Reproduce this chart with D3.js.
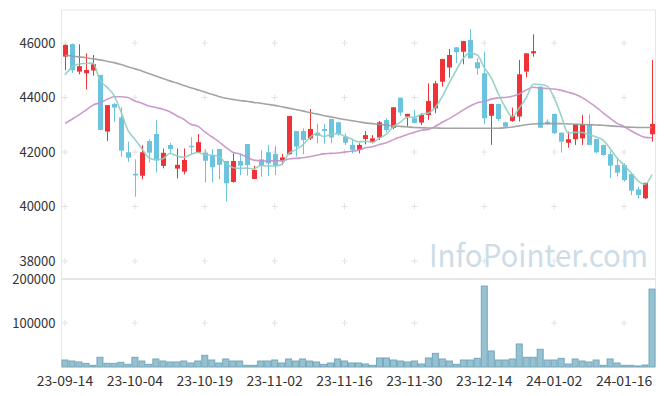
<!DOCTYPE html>
<html>
<head>
<meta charset="utf-8">
<script src="https://cdn.jsdelivr.net/npm/d3@7"></script>
<style>
  body { margin: 0; background: #fff; }
  svg { display: block; font-family: "Noto Sans CJK KR", "Noto Sans", sans-serif; }
</style>
</head>
<body>
<div class="canvas"></div>
<script>
// trading days (categories)
const dates = [
  "23-09-14","23-09-15","23-09-18","23-09-19","23-09-20","23-09-21","23-09-22","23-09-25","23-09-26","23-09-27",
  "23-10-04","23-10-05","23-10-06","23-10-10","23-10-11","23-10-12","23-10-13","23-10-16","23-10-17","23-10-18",
  "23-10-19","23-10-20","23-10-23","23-10-24","23-10-25","23-10-26","23-10-27","23-10-30","23-10-31","23-11-01",
  "23-11-02","23-11-03","23-11-06","23-11-07","23-11-08","23-11-09","23-11-10","23-11-13","23-11-14","23-11-15",
  "23-11-16","23-11-17","23-11-20","23-11-21","23-11-22","23-11-23","23-11-24","23-11-27","23-11-28","23-11-29",
  "23-11-30","23-12-01","23-12-04","23-12-05","23-12-06","23-12-07","23-12-08","23-12-11","23-12-12","23-12-13",
  "23-12-14","23-12-15","23-12-18","23-12-19","23-12-20","23-12-21","23-12-22","23-12-26","23-12-27","23-12-28",
  "24-01-02","24-01-03","24-01-04","24-01-05","24-01-08","24-01-09","24-01-10","24-01-11","24-01-12","24-01-15",
  "24-01-16","24-01-17","24-01-18","24-01-19","24-01-22"
];

const opens = [
  45500,45960,44950,44890,44990,44830,42750,43760,43270,41990,
  41200,41130,42400,42660,41490,42260,41390,41280,42230,41980,
  41975,41880,42110,41670,40900,41670,42290,41010,41730,41990,
  41930,41680,41920,42770,42770,42500,42710,42845,43210,43090,
  42560,42260,42080,42480,42360,42530,43170,42890,43990,43300,
  43240,43080,43360,43600,44580,45100,45840,45680,46110,45290,
  44890,43330,43760,43090,43140,43300,44950,45620,44400,43110,
  43400,42710,42340,42470,42500,43030,42480,42260,41920,41520,
  41520,41190,40630,40300,42650
];
const highs = [
  45950,45980,45950,45620,45560,44830,43720,43800,43640,42380,
  41730,42250,42470,43170,42130,42340,42130,42130,42540,42660,
  42100,42100,42110,41670,41950,41950,42290,41490,42070,42260,
  42230,41930,43320,42770,42870,43580,43040,43030,43210,43110,
  42690,42440,42320,42770,42620,43140,43240,43650,44000,43400,
  43540,43420,44520,44610,45420,45780,45850,46080,46510,45440,
  45680,43770,43770,43110,43630,45380,45630,46320,44400,43200,
  43400,42710,42750,43030,43360,43380,42480,42260,42040,41770,
  41590,41200,40730,40870,45380
];
const lows = [
  45000,44900,44850,44300,44800,42800,42400,43110,41830,41640,
  40360,41000,41610,41250,41400,41950,41030,41180,41890,41970,
  40880,40880,41000,40190,40870,41150,41130,41000,41100,41130,
  41150,41520,41900,41830,41920,42440,42320,42300,42320,42600,
  42260,41950,41950,42280,42320,42440,42720,42840,43330,42930,
  43050,42990,43180,43420,44400,44730,45260,45220,45430,44830,
  43020,42260,43140,42900,43110,43120,44740,45500,42880,43000,
  42650,41980,42160,42260,42260,42250,41950,41850,41040,41100,
  40910,40420,40300,40280,42380
];
const closes = [
  45930,45000,45150,45010,45220,42810,43720,43630,42050,41790,
  41140,41990,41975,41690,41970,42110,41530,41710,42210,42360,
  41680,41440,41530,40850,41670,41500,41520,41340,41500,41580,
  41500,41800,43320,42200,42440,42845,42600,42770,42530,42650,
  42340,42080,42260,42620,42500,43090,42810,43640,43450,43400,
  43065,43360,43870,44520,45410,45560,45660,46070,45440,45070,
  43240,43760,43210,42930,43320,44850,45620,45700,42890,43030,
  42690,42380,42470,43030,43020,42260,41990,41890,41500,41240,
  40970,40580,40420,40870,43030
];
const volumes = [
  15900,13600,11400,8300,3800,22000,8300,8300,10600,6100,
  22000,13600,6100,18200,13600,11400,11400,13600,9100,13600,
  26500,15900,9100,18200,13600,13600,3800,3800,13600,13600,
  15900,9100,18200,13600,18200,13600,11400,6100,9100,18200,
  13600,9100,9100,6800,3800,20500,20500,15900,13600,11400,
  13600,6800,20500,31000,18200,13600,6100,15900,15900,19700,
  184000,36400,15900,15900,18200,52300,22000,22000,40200,15900,
  15900,19700,6800,18200,13600,11400,15900,3800,18200,9100,
  3800,3800,2300,4500,177000
];

// moving averages: first values of the short ones (earlier closes not shown)
const ma5Head = [44830,45110,45230,45250];
const ma20Head = [43050,43200,43360,43540,43720,43810,43930,44030,44030,44000,
  43870,43790,43690,43630,43570,43480,43330,43200,43020];
const ma60 = [
  45550,45520,45490,45460,45420,45380,45330,45280,45210,45130,
  45050,44970,44880,44790,44700,44610,44530,44440,44360,44280,
  44200,44120,44040,43970,43930,43890,43860,43820,43790,43750,
  43710,43660,43610,43560,43510,43450,43400,43340,43290,43240,
  43190,43150,43110,43070,43040,43010,42990,42960,42940,42920,
  42900,42890,42880,42880,42870,42870,42870,42870,42870,42870,
  42870,42870,42870,42890,42920,42960,43000,43030,43040,43040,
  43040,43040,43030,43020,43010,43000,42990,42980,42960,42940,
  42920,42910,42900,42900,42900
];

const priceTicks = [46000, 44000, 42000, 40000, 38000];
const volumeTicks = [200000, 100000];
const tickLabels = ["23-09-14","23-10-04","23-10-19","23-11-02","23-11-16","23-11-30","23-12-14","24-01-02","24-01-16"];

const rolling = (n, head) => closes.map((c, i) =>
  i < n - 1 ? head[i] : d3.mean(closes.slice(i - n + 1, i + 1)));
const ma5 = rolling(5, ma5Head);
const ma20 = rolling(20, ma20Head);

const dims = {width: 665, height: 396, left: 61.5, right: 655.5, top: 10, split: 279, bottom: 367};

const svg = d3.select(".canvas").append("svg")
    .attr("width", dims.width)
    .attr("height", dims.height);

const x = d3.scaleBand().domain(dates).range([dims.left, dims.right]).padding(0);
const cx = d => x(d) + x.bandwidth() / 2;
const y = d3.scaleLinear().domain([38000, 46000]).range([261, 43]);
const yv = d3.scaleLinear().domain([0, 200000]).range([dims.bottom, dims.split]);

const UP = "#ee3238", DOWN = "#6cc3de";

// frame
const frame = svg.append("g").attr("stroke", "#e6e6e6").attr("fill", "none");
frame.append("line").attr("x1", dims.left).attr("x2", dims.right).attr("y1", dims.top).attr("y2", dims.top);
frame.append("line").attr("x1", dims.left).attr("x2", dims.left).attr("y1", dims.top).attr("y2", dims.bottom);
frame.append("line").attr("x1", dims.right).attr("x2", dims.right).attr("y1", dims.top).attr("y2", dims.bottom);
frame.append("line").attr("x1", dims.left).attr("x2", dims.right).attr("y1", dims.split).attr("y2", dims.split)
    .attr("stroke-width", 2);

// small crosses where grid lines would meet
const crossY = priceTicks.map(y).concat([yv(100000)]);
const crosses = svg.append("g").attr("stroke", "#e2e2e2").attr("stroke-width", 1);
tickLabels.forEach(t => {
  crossY.forEach(py => {
    crosses.append("line").attr("x1", cx(t) - 3).attr("x2", cx(t) + 3).attr("y1", py).attr("y2", py);
    crosses.append("line").attr("x1", cx(t)).attr("x2", cx(t)).attr("y1", py - 3).attr("y2", py + 3);
  });
});

// watermark
svg.append("text")
    .attr("x", 429).attr("y", 267)
    .attr("font-size", 31)
    .attr("fill", "#cddde7")
    .attr("textLength", 219)
    .attr("lengthAdjust", "spacingAndGlyphs")
    .text("InfoPointer.com");

// candles
const candles = dates.map((d, i) => ({date: d, o: opens[i], h: highs[i], l: lows[i], c: closes[i]}));
const cg = svg.append("g");
cg.selectAll("line.wick").data(candles).join("line")
    .attr("class", "wick")
    .attr("x1", d => Math.round(cx(d.date)) + 0.5).attr("x2", d => Math.round(cx(d.date)) + 0.5)
    .attr("y1", d => y(d.h)).attr("y2", d => y(d.l))
    .attr("stroke", d => d.c >= d.o ? UP : DOWN);
cg.selectAll("rect.body").data(candles).join("rect")
    .attr("class", "body")
    .attr("x", d => Math.round(cx(d.date)) - 2)
    .attr("width", 5)
    .attr("y", d => y(Math.max(d.o, d.c)))
    .attr("height", d => Math.max(1.5, Math.abs(y(d.o) - y(d.c))))
    .attr("fill", d => d.c >= d.o ? UP : DOWN);

// moving average lines
const maLine = vals => d3.line().x((v, i) => cx(dates[i])).y(v => y(v)).curve(d3.curveMonotoneX)(vals);
[[ma60, "#9a9a9a"], [ma20, "#c78fc6"], [ma5, "#8ccfc1"]].forEach(([vals, col]) => {
  svg.append("path").attr("d", maLine(vals))
      .attr("fill", "none").attr("stroke", col).attr("stroke-width", 1.6).attr("opacity", 0.9);
});

// volume
svg.append("g").selectAll("rect").data(volumes).join("rect")
    .attr("x", (v, i) => x(dates[i]) + 0.5)
    .attr("width", x.bandwidth() - 1)
    .attr("y", v => yv(v))
    .attr("height", v => dims.bottom - yv(v))
    .attr("fill", "#96c1d1")
    .attr("stroke", "#74a7bc")
    .attr("stroke-width", 1);

// axes
const yAxis = svg.append("g")
    .attr("transform", `translate(${dims.left - 6},0)`)
    .call(d3.axisLeft(y).tickValues(priceTicks).tickSize(0).tickPadding(0).tickFormat(d3.format("d")));
const vAxis = svg.append("g")
    .attr("transform", `translate(${dims.left - 6},0)`)
    .call(d3.axisLeft(yv).tickValues(volumeTicks).tickSize(0).tickPadding(0).tickFormat(d3.format("d")));
const xAxis = svg.append("g")
    .attr("transform", `translate(0,${dims.bottom})`)
    .call(d3.axisBottom(x).tickValues(tickLabels).tickSize(0).tickPadding(6));

[yAxis, vAxis, xAxis].forEach(a => {
  a.select(".domain").remove();
  a.selectAll("text").attr("font-size", 13).attr("fill", "#333")
      .attr("font-family", "\"Noto Sans CJK KR\", \"Noto Sans\", sans-serif");
});
xAxis.selectAll("text").attr("font-size", 14).attr("dy", "0.9em");
</script>
</body>
</html>
